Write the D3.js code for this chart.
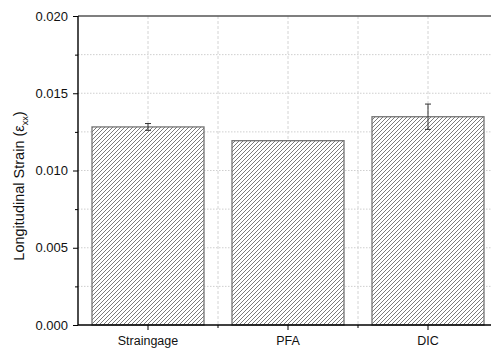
<!DOCTYPE html>
<html>
<head>
<meta charset="utf-8">
<script src="https://cdn.jsdelivr.net/npm/d3@7"></script>
<style>
  html, body { margin: 0; padding: 0; background: #fff; }
  svg { display: block; font-family: "Liberation Sans", Arial, sans-serif; }
</style>
</head>
<body>
<svg id="chart" width="491" height="354"></svg>
<script>
// Measured strain per method, with standard deviation
const methods = ["Straingage", "PFA", "DIC"];
const strain = [0.01282, 0.01193, 0.01348];
const strainErr = [0.00022, 0.0, 0.00082];
const yTicks = [0.000, 0.005, 0.010, 0.015, 0.020];
const yMinorTicks = [0.0025, 0.0075, 0.0125, 0.0175];

const svg = d3.select("#chart");
const plotLeft = 78, plotTop = 16, plotBottom = 325, plotRight = 498;

const x = d3.scaleBand().domain(methods).range([plotLeft, plotRight])
  .paddingInner(0.2).paddingOuter(0.1);
const y = d3.scaleLinear().domain([0, 0.02]).range([plotBottom, plotTop]);

// diagonal hatch fill
const defs = svg.append("defs");
const pat = defs.append("pattern")
  .attr("id", "hatch").attr("patternUnits", "userSpaceOnUse")
  .attr("width", 4).attr("height", 4);
pat.append("rect").attr("width", 4).attr("height", 4).attr("fill", "#fff");
pat.append("path")
  .attr("d", "M-1,1 l2,-2 M0,4 l4,-4 M3,5 l2,-2")
  .attr("stroke", "#7a7a7a").attr("stroke-width", 1);

// grid lines
const grid = svg.append("g");
grid.selectAll("line.h").data(yTicks.slice(1, -1).concat(yMinorTicks)).join("line")
  .attr("x1", plotLeft).attr("x2", plotRight)
  .attr("y1", d => y(d)).attr("y2", d => y(d))
  .attr("stroke", "#cfcfcf").attr("stroke-width", 1)
  .attr("stroke-dasharray", "1.5,1.5");
const step = x.step();
const vx = methods.map(m => x(m) + x.bandwidth() / 2)
  .concat(methods.slice(1).map(m => x(m) - step * x.paddingInner() / 2));
grid.selectAll("line.v").data(vx).join("line")
  .attr("x1", d => d).attr("x2", d => d)
  .attr("y1", plotTop).attr("y2", plotBottom)
  .attr("stroke", "#d4d4d4").attr("stroke-width", 1)
  .attr("stroke-dasharray", "3,2");

// bars
svg.append("g").selectAll("rect").data(methods).join("rect")
  .attr("x", d => x(d)).attr("width", x.bandwidth())
  .attr("y", (d, i) => y(strain[i]))
  .attr("height", (d, i) => plotBottom - y(strain[i]))
  .attr("fill", "url(#hatch)")
  .attr("stroke", "#747474").attr("stroke-width", 1.3);

// error bars
const eb = svg.append("g").attr("stroke", "#333").attr("stroke-width", 1);
methods.forEach((m, i) => {
  if (!strainErr[i]) return;
  const cx = x(m) + x.bandwidth() / 2;
  const y1 = y(strain[i] + strainErr[i]), y2 = y(strain[i] - strainErr[i]);
  eb.append("line").attr("x1", cx).attr("x2", cx).attr("y1", y1).attr("y2", y2);
  eb.append("line").attr("x1", cx - 3).attr("x2", cx + 3).attr("y1", y1).attr("y2", y1);
  eb.append("line").attr("x1", cx - 3).attr("x2", cx + 3).attr("y1", y2).attr("y2", y2);
});

// top frame line
svg.append("line").attr("x1", plotLeft).attr("x2", plotRight)
  .attr("y1", plotTop).attr("y2", plotTop)
  .attr("stroke", "#555").attr("stroke-width", 1.6);

// y axis
const yAxis = svg.append("g").attr("transform", `translate(${plotLeft},0)`)
  .call(d3.axisLeft(y).tickValues(yTicks).tickFormat(d3.format(".3f"))
    .tickSize(5).tickPadding(5));
svg.append("g").attr("transform", `translate(${plotLeft},0)`)
  .call(d3.axisLeft(y).tickValues(yMinorTicks).tickFormat("").tickSize(3))
  .call(g => g.select(".domain").remove())
  .selectAll("line").attr("stroke", "#000");
yAxis.select(".domain").attr("d", `M0,${plotTop}V${plotBottom}`).attr("stroke", "#000").attr("stroke-width", 1.4);
yAxis.selectAll("text").attr("font-size", 13).attr("fill", "#111")
  .attr("font-family", "Liberation Sans, Arial, sans-serif");

// x axis
const xAxis = svg.append("g").attr("transform", `translate(0,${plotBottom})`)
  .call(d3.axisBottom(x).tickSize(5).tickPadding(6));
xAxis.select(".domain").attr("d", `M${plotLeft},0H${plotRight}`).attr("stroke", "#000").attr("stroke-width", 1.4);
xAxis.selectAll("text").attr("font-size", 12.5).attr("fill", "#111")
  .attr("font-family", "Liberation Sans, Arial, sans-serif");
svg.append("g").attr("transform", `translate(0,${plotBottom})`)
  .selectAll("line").data(vx.slice(methods.length)).join("line")
  .attr("x1", d => d).attr("x2", d => d).attr("y1", 0).attr("y2", 3)
  .attr("stroke", "#000");

// y label
const lab = svg.append("text")
  .attr("transform", "translate(24,186) rotate(-90)")
  .attr("text-anchor", "middle").attr("font-size", 14.5).attr("fill", "#111");
lab.append("tspan").text("Longitudinal Strain (ε");
lab.append("tspan").attr("font-size", 9).attr("dy", 4).text("xx");
lab.append("tspan").attr("dy", -4).text(")");
</script>
</body>
</html>
